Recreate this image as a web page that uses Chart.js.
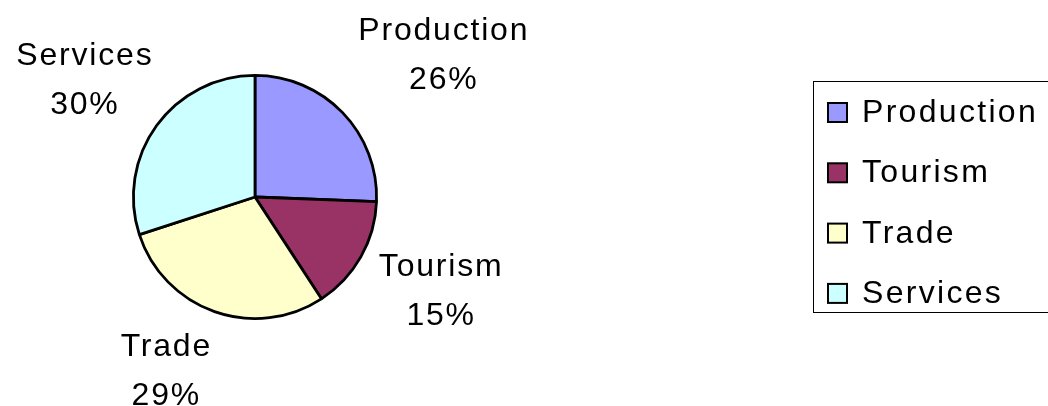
<!DOCTYPE html>
<html>
<head>
<meta charset="utf-8">
<script src="https://cdn.jsdelivr.net/npm/chart.js@4"></script>
<style>
  html, body { margin: 0; padding: 0; background: #fff; }
  #wrap { width: 1048px; height: 406px; }
</style>
</head>
<body>
<div id="wrap"><canvas id="pieChart" width="1048" height="406"></canvas></div>
<script>
const categories = ['Production', 'Tourism', 'Trade', 'Services'];
const shares = [25.6, 15.2, 29.2, 30.0];
const sliceColors = ['#9999FF', '#993366', '#FFFFCC', '#CCFFFF'];

const FONT = '32px "Liberation Sans", Arial, sans-serif';
const SPACING = '1.8px';
// small hand nudges so the outside labels sit where Excel put them
const labelNudge = [[18, -15], [0, 0], [-23, -2], [8, -9]];

// slice labels outside the pie, two lines: name and percentage
const outsideLabels = {
  id: 'outsideLabels',
  afterDatasetsDraw(chart) {
    const ctx = chart.ctx;
    const meta = chart.getDatasetMeta(0);
    const total = shares.reduce((a, b) => a + b, 0);
    ctx.save();
    ctx.font = FONT;
    ctx.letterSpacing = SPACING;
    ctx.fillStyle = '#000';
    ctx.textAlign = 'center';
    ctx.textBaseline = 'alphabetic';
    meta.data.forEach((arc, i) => {
      const p = arc.getProps(['x', 'y', 'startAngle', 'endAngle', 'outerRadius'], true);
      const mid = (p.startAngle + p.endAngle) / 2;
      const dx = Math.cos(mid), dy = Math.sin(mid);
      const line1 = categories[i];
      const line2 = Math.round(shares[i] / total * 100) + '%';
      const w = Math.max(ctx.measureText(line1).width, ctx.measureText(line2).width);
      const h = 70;
      const gap = 30;
      const ax = p.x + dx * (p.outerRadius + gap);
      const ay = p.y + dy * (p.outerRadius + gap);
      let cx = ax + dx * w / 2 + labelNudge[i][0];
      let cy = ay + dy * h / 2 + labelNudge[i][1];
      cx = Math.min(Math.max(cx, w / 2 + 4), chart.width - w / 2 - 4);
      cy = Math.min(Math.max(cy, h / 2 + 4), chart.height - h / 2 - 2);
      const top = cy - h / 2;
      ctx.fillText(line1, cx, top + 22);
      ctx.fillText(line2, cx, top + 71);
    });
    ctx.restore();
  }
};

// boxed legend at the right, partly cut by the canvas edge
const boxLegend = {
  id: 'boxLegend',
  afterDraw(chart) {
    const ctx = chart.ctx;
    const left = 813, top = 81, bottom = 312;
    ctx.save();
    ctx.strokeStyle = '#000';
    ctx.lineWidth = 1;
    ctx.strokeRect(left + 0.5, top + 0.5, 300, bottom - top);
    ctx.font = FONT;
    ctx.letterSpacing = '2.3px';
    ctx.textAlign = 'left';
    ctx.textBaseline = 'alphabetic';
    categories.forEach((name, i) => {
      const base = 122 + i * 60.3;
      ctx.fillStyle = sliceColors[i];
      ctx.fillRect(828, base - 19, 19, 19);
      ctx.lineWidth = 2;
      ctx.strokeStyle = '#000';
      ctx.strokeRect(828, base - 19, 19, 19);
      ctx.fillStyle = '#000';
      ctx.fillText(name, 862, base);
    });
    ctx.restore();
  }
};

new Chart(document.getElementById('pieChart'), {
  type: 'pie',
  data: {
    labels: categories,
    datasets: [{
      data: shares,
      backgroundColor: sliceColors,
      borderColor: '#000',
      borderWidth: 2.8,
      borderAlign: 'center'
    }]
  },
  options: {
    responsive: false,
    animation: false,
    layout: { padding: { left: 132, right: 1048 - 378, top: 74, bottom: 406 - 320 } },
    plugins: {
      legend: { display: false },
      tooltip: { enabled: false }
    }
  },
  plugins: [outsideLabels, boxLegend]
});
</script>
</body>
</html>
